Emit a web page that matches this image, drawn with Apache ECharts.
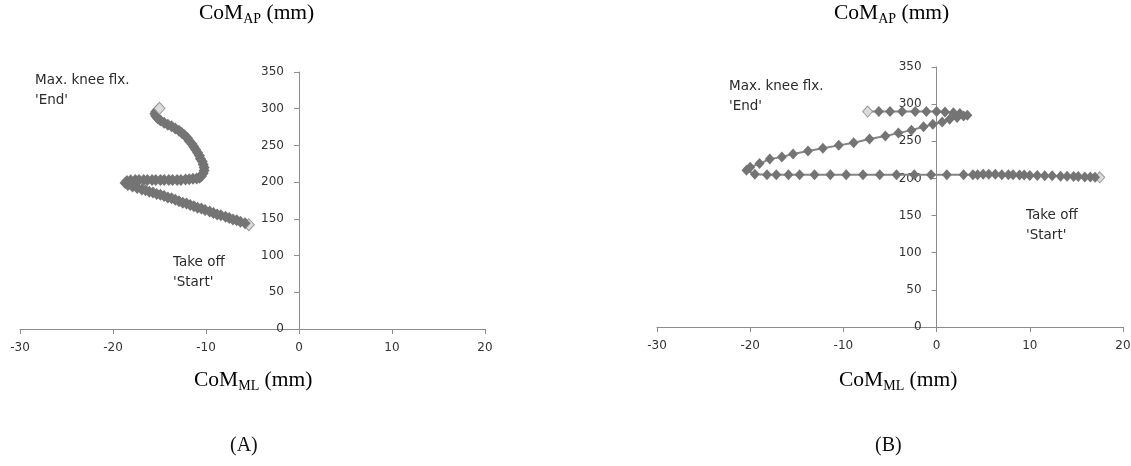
<!DOCTYPE html>
<html><head><meta charset="utf-8">
<script src="https://cdn.jsdelivr.net/npm/echarts@6/dist/echarts.min.js"></script>
<style>html,body{margin:0;padding:0;background:#fff}#c{width:1131px;height:466px}</style>
</head><body><div id="c"></div>
<script>
// Panel A: CoM trajectory (ML vs AP), start -> end
var aML = [-5.4,-5.8,-6.3,-6.7,-7.1,-7.5,-7.9,-8.4,-8.8,-9.2,-9.6,-10.1,-10.5,-10.9,-11.3,-11.7,-12.1,-12.5,-12.9,-13.3,-13.7,-14.1,-14.5,-14.9,-15.3,-15.7,-16.1,-16.5,-16.9,-17.4,-17.9,-18.4,-18.7,-18.5,-18.1,-17.6,-17.2,-16.7,-16.3,-15.8,-15.4,-14.9,-14.5,-14.0,-13.6,-13.1,-12.7,-12.2,-11.8,-11.4,-11.0,-10.7,-10.5,-10.3,-10.2,-10.2,-10.3,-10.4,-10.6,-10.7,-10.9,-11.1,-11.3,-11.5,-11.8,-12.0,-12.3,-12.6,-12.9,-13.3,-13.7,-14.1,-14.5,-14.9,-15.2,-15.4,-15.5,-15.4,-15.2,-15.0];
var aAP = [142,144,146,148,149,151,153,155,156,158,160,162,164,165,167,169,171,172,174,176,178,179,181,183,184,186,187,189,190,192,194,196,199,201.5,202.5,203,203,203,203,203,203,203,203,203,203,203,203,203.5,204,204.5,205,206,208,212,216,220,224,228,232,236,240,244,248,252,256,260,264,267,270,273,276,278,281,284,287,290,293,296,298.5,300.5];
// Panel B
var bML = [17.5,17.0,16.5,15.9,15.2,14.7,14.0,13.3,12.4,11.6,10.8,10.0,9.4,8.9,8.2,7.7,7.0,6.3,5.6,5.0,4.4,3.9,2.9,1.1,-0.6,-2.4,-4.3,-6.1,-7.9,-9.7,-11.4,-13.1,-14.7,-15.9,-17.2,-18.2,-19.5,-20.4,-20.0,-19.0,-17.9,-16.6,-15.4,-13.8,-12.2,-10.5,-8.9,-7.2,-5.5,-4.1,-2.7,-1.4,-0.4,0.6,1.4,2.2,2.9,3.3,2.5,1.8,0.9,0.0,-1.1,-2.3,-3.7,-5.0,-6.2,-7.4];
var bAP = [201.5,201.5,202,202,202.5,202.5,203,203,203.5,203.5,204,204,204.5,204.5,205,205,205,205.5,205.5,205.5,205,205,205,205,205,205,205,205,205,205,205,205,205,205,205,205,205.5,211,215,220,226,229,233,237,240.5,244.5,248,253,257,261,265,269.5,273,276,279.5,282,284,285,287.5,288.5,289.5,290,290,290,290,290,290,290];
var xTicks = {min: -30, max: 20, interval: 10};
var yTicks = {min: 0, max: 350, interval: 50};

var grids = [
  {left: 20, top: 72, width: 465, height: 257},
  {left: 657, top: 67, width: 466, height: 260}
];
function pts(xs, ys) {
  return xs.map(function (x, i) {
    var p = {value: [x, ys[i]]};
    if (i === 0 || i === xs.length - 1) {
      p.itemStyle = {color: '#dcdcdc', borderColor: '#9a9a9a', borderWidth: 1};
    }
    return p;
  });
}
var axisCol = '#8c8c8c';
function xAx(g) {
  return {type: 'value', gridIndex: g, min: xTicks.min, max: xTicks.max, interval: xTicks.interval,
    axisLine: {show: true, onZero: false, lineStyle: {color: axisCol, width: 1}},
    axisTick: {show: true, length: 5, lineStyle: {color: axisCol}},
    splitLine: {show: false},
    axisLabel: {margin: 13, color: '#333', fontSize: 12, fontFamily: 'DejaVu Sans'}};
}
function yAx(g) {
  // place the y axis at ML = 0 inside the grid
  var off = -grids[g].width * (0 - xTicks.min) / (xTicks.max - xTicks.min);
  return {type: 'value', gridIndex: g, min: yTicks.min, max: yTicks.max, interval: yTicks.interval,
    position: 'left', offset: off,
    axisLine: {show: true, onZero: false, lineStyle: {color: axisCol, width: 1}},
    axisTick: {show: true, length: 5, lineStyle: {color: axisCol}},
    splitLine: {show: false},
    axisLabel: {margin: 15, color: '#333', fontSize: 12, fontFamily: 'DejaVu Sans'}};
}
function ser(g, xs, ys, sz) {
  return {type: 'line', xAxisIndex: g, yAxisIndex: g, data: pts(xs, ys),
    symbol: 'diamond', symbolSize: sz, showSymbol: true,
    lineStyle: {color: '#858585', width: 2},
    itemStyle: {color: '#747474'}, z: 3};
}
var rich = {
  a: {fontSize: 21.5, fontFamily: 'Liberation Serif', color: '#111', lineHeight: 24, padding: [0, 0, 6, 0], verticalAlign: 'top'},
  s: {fontSize: 14, fontFamily: 'Liberation Serif', color: '#111', lineHeight: 18, verticalAlign: 'bottom'}
};
function ttl(x, y, sub) {
  return {type: 'text', left: x, top: y, style: {text: '{a|CoM}{s|' + sub + '}{a| (mm)}', rich: rich}};
}
function note(x, y, t) {
  return {type: 'text', left: x, top: y, style: {text: t, fontSize: 13.5, fontFamily: 'DejaVu Sans', fill: '#2a2a2a', lineHeight: 20}};
}
var chart = echarts.init(document.getElementById('c'));
chart.setOption({
  animation: false,
  grid: grids.map(function (g) {
    return {left: g.left, top: g.top, width: g.width, height: g.height, containLabel: false, outerBoundsMode: 'none'};
  }),
  xAxis: [xAx(0), xAx(1)],
  yAxis: [yAx(0), yAx(1)],
  series: [ser(0, aML, aAP, [11, 12]), ser(1, bML, bAP, [10, 11])],
  graphic: [
    ttl(199, 2, 'AP'), ttl(194, 369, 'ML'),
    ttl(834, 2, 'AP'), ttl(839, 369, 'ML'),
    {type: 'text', left: 230, top: 436, style: {text: '(A)', fontSize: 20, fontFamily: 'Liberation Serif', fill: '#111'}},
    {type: 'text', left: 875, top: 436, style: {text: '(B)', fontSize: 20, fontFamily: 'Liberation Serif', fill: '#111'}},
    note(35, 70, "Max. knee flx.\n'End'"),
    note(173, 252, "Take off\n'Start'"),
    note(729, 76, "Max. knee flx.\n'End'"),
    note(1026, 205, "Take off\n'Start'")
  ]
});
</script></body></html>
